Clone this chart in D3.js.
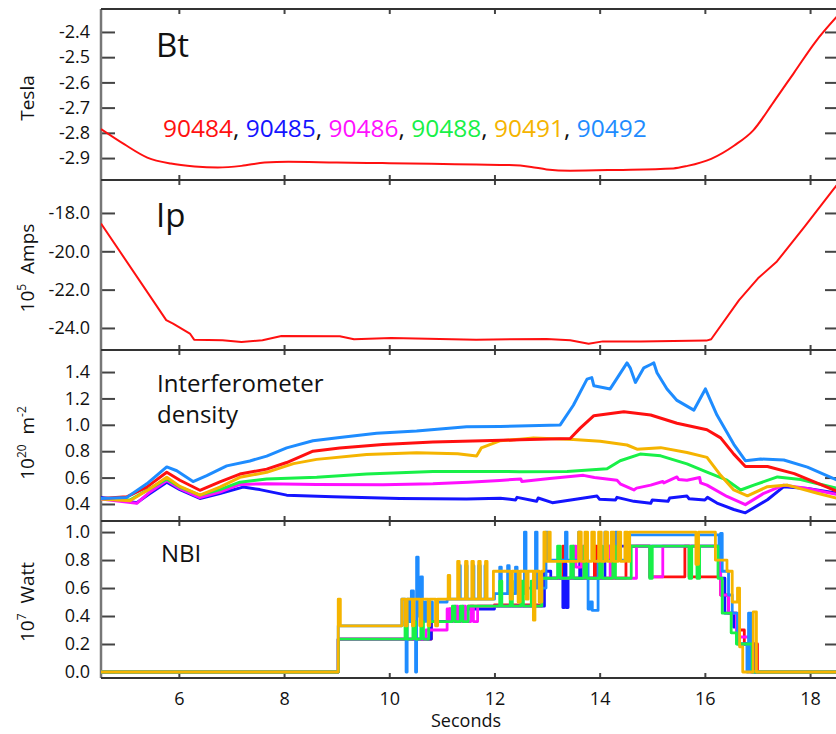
<!DOCTYPE html>
<html>
<head>
<meta charset="utf-8">
<script src="https://cdn.jsdelivr.net/npm/d3@7"></script>
<style>
body { margin: 0; background: #fff; }
text { font-family: "Open Sans", sans-serif; fill: #111; }
</style>
</head>
<body>
<div id="chart"></div>
<script>
// shots shown in the legend
var shots = ["90484", "90485", "90486", "90488", "90491", "90492"];
var shotColors = ["#ff1010", "#1414ff", "#ff10ff", "#18f048", "#f5b400", "#1e8cff"];

// tick labels
var timeTicks = [6, 8, 10, 12, 14, 16, 18];
var btTicks = [-2.4, -2.5, -2.6, -2.7, -2.8, -2.9];
var ipTicks = [-18, -20, -22, -24];
var densTicks = [0.4, 0.6, 0.8, 1.0, 1.2, 1.4];
var nbiTicks = [0, 0.2, 0.4, 0.6, 0.8, 1.0];

// Bt (Tesla) for 90484, [seconds, value]
var btData = [[4.52,-2.785],[4.96,-2.845],[5.40,-2.898],[5.85,-2.922],[6.3,-2.933],[6.74,-2.937],
  [7.19,-2.931],[7.63,-2.918],[8.08,-2.915],[9.0,-2.918],[9.87,-2.92],[10.8,-2.923],[11.65,-2.926],
  [12.28,-2.928],[12.7,-2.935],[12.99,-2.945],[13.44,-2.95],[14.33,-2.947],[15.4,-2.941],[15.67,-2.931],
  [16.12,-2.903],[16.56,-2.85],[16.92,-2.79],[17.3,-2.68],[17.7,-2.56],[18.1,-2.44],[18.55,-2.33]];

// Ip (10^5 A) for 90484
var ipData = [[4.52,-18.55],[5.76,-23.59],[5.89,-23.77],[6.21,-24.29],[6.29,-24.61],
  [6.83,-24.64],[7.19,-24.73],[7.59,-24.64],[7.95,-24.42],[9.06,-24.43],[9.33,-24.59],[10.04,-24.52],
  [11.65,-24.61],[12.99,-24.57],[13.44,-24.64],[13.79,-24.82],[14.06,-24.70],[14.78,-24.70],[16.03,-24.66],
  [16.12,-24.59],[16.65,-22.55],[17.01,-21.41],[17.37,-20.53],[17.9,-18.7],[18.44,-16.78],[18.55,-16.4]];

// interferometer density (10^20 m^-2)
var dens84 = [[4.52,0.442],[5.01,0.454],[5.39,0.528],[5.77,0.64],[6.02,0.58],[6.4,0.504],[6.78,0.568],
  [7.16,0.627],[7.67,0.664],[8.05,0.714],[8.55,0.8],[9.06,0.825],[9.88,0.85],[10.83,0.869],[11.78,0.879],
  [12.48,0.886],[13.44,0.896],[13.63,0.975],[13.89,1.069],[14.46,1.099],[14.97,1.074],[15.47,1.012],
  [16.04,0.963],[16.3,0.901],[16.55,0.778],[16.77,0.684],[17.19,0.684],[17.7,0.63],[18.55,0.49]];
var dens85 = [[4.52,0.449],[4.88,0.43],[5.2,0.41],[5.45,0.479],[5.77,0.565],[6.02,0.509],[6.4,0.442],
  [6.78,0.479],[7.22,0.528],[7.54,0.509],[8.05,0.467],[8.93,0.454],[10.2,0.442],[11.47,0.437],[12.11,0.444],
  [12.4,0.43],[12.43,0.45],[12.8,0.42],[12.83,0.445],[13.1,0.41],[13.45,0.43],[13.7,0.445],[13.95,0.46],
  [14.0,0.435],[14.3,0.43],[14.33,0.45],[14.65,0.42],[14.97,0.405],[15.0,0.43],[15.3,0.42],[15.33,0.445],
  [15.66,0.46],[15.7,0.44],[16.0,0.43],[16.05,0.45],[16.23,0.407],[16.55,0.358],[16.77,0.333],[17.19,0.432],
  [17.5,0.531],[17.95,0.518],[18.55,0.48]];
var dens86 = [[4.52,0.437],[5.2,0.405],[5.45,0.491],[5.77,0.578],[6.02,0.516],[6.4,0.449],[6.78,0.491],
  [7.16,0.548],[7.67,0.553],[8.62,0.548],[9.88,0.546],[10.83,0.553],[11.5,0.565],[12.1,0.578],[12.5,0.59],
  [12.52,0.57],[13.05,0.593],[13.69,0.617],[13.9,0.6],[14.33,0.58],[14.4,0.55],[14.65,0.506],[14.7,0.52],
  [14.97,0.543],[15.2,0.57],[15.22,0.56],[15.47,0.605],[15.5,0.585],[15.66,0.58],[15.9,0.6],[15.92,0.56],
  [16.04,0.543],[16.42,0.457],[16.77,0.395],[17.12,0.481],[17.5,0.543],[17.95,0.518],[18.55,0.469]];
var dens88 = [[4.52,0.442],[5.07,0.43],[5.45,0.516],[5.77,0.59],[6.02,0.528],[6.4,0.467],[6.78,0.509],
  [7.16,0.565],[7.67,0.59],[8.62,0.602],[9.57,0.627],[10.83,0.647],[12.48,0.645],[13.38,0.647],[14.14,0.667],
  [14.39,0.728],[14.77,0.778],[15.16,0.765],[15.66,0.704],[16.04,0.642],[16.42,0.58],[16.68,0.506],
  [16.93,0.543],[17.38,0.605],[17.82,0.585],[18.55,0.515]];
var dens91 = [[4.52,0.437],[5.07,0.425],[5.45,0.516],[5.77,0.602],[6.02,0.533],[6.4,0.467],[6.78,0.528],
  [7.16,0.602],[7.67,0.64],[8.18,0.706],[8.62,0.738],[9.57,0.775],[10.52,0.788],[11.3,0.78],[11.66,0.763],
  [11.75,0.825],[12.1,0.879],[12.48,0.891],[12.74,0.901],[13.5,0.889],[14.01,0.876],[14.52,0.847],
  [14.71,0.815],[15.16,0.827],[15.66,0.79],[16.04,0.753],[16.3,0.617],[16.55,0.506],[16.81,0.462],
  [17.19,0.531],[17.57,0.543],[18.14,0.481],[18.55,0.44]];
var dens92 = [[4.52,0.442],[5.01,0.45],[5.39,0.553],[5.77,0.681],[5.96,0.652],[6.27,0.57],[6.53,0.615],
  [6.91,0.689],[7.35,0.726],[7.67,0.763],[8.05,0.825],[8.55,0.879],[9.06,0.904],[9.76,0.936],[10.52,0.953],
  [11.47,0.985],[12.11,0.988],[13.25,0.999],[13.5,1.148],[13.76,1.346],[13.85,1.358],[13.89,1.296],
  [14.2,1.272],[14.52,1.469],[14.58,1.432],[14.68,1.321],[14.84,1.432],[14.97,1.457],[15.03,1.469],
  [15.09,1.395],[15.28,1.272],[15.47,1.185],[15.79,1.111],[16.01,1.272],[16.23,1.074],[16.55,0.852],
  [16.77,0.728],[17.06,0.741],[17.5,0.733],[17.95,0.679],[18.55,0.575]];

// NBI power (10^7 W), step values
var nbi84 = [[4.52,0],[9.03,0.235],[10.8,0.36],[11.15,0.45],[11.2,0.36],[11.3,0.45],[11.5,0.47],[12.0,0.48],
  [12.9,0.67],[13.3,0.9],[13.35,0.67],[13.9,0.9],[13.95,0.67],[14.5,0.9],[14.95,0.68],[15.62,0.9],[15.7,0.68],
  [16.3,0.55],[16.45,0.42],[16.6,0.3],[16.75,0.2],[17.0,0],[18.55,0]];
var nbi85 = [[4.52,0],[9.03,0.235],[10.8,0.36],[11.2,0.45],[12.0,0.47],[12.95,0.72],[13.07,0.67],[13.3,0.46],
  [13.33,0.77],[13.36,0.46],[13.4,0.67],[13.62,0.9],[13.65,0.67],[14.1,0.9],[16.3,0.67],
  [16.38,0.42],[16.55,0.32],[16.65,0.2],[16.95,0],[18.55,0]];
var nbi86 = [[4.52,0],[9.03,0.235],[10.7,0.3],[11.1,0.45],[11.15,0.36],[11.25,0.47],[11.3,0.36],[11.4,0.47],
  [11.45,0.36],[11.55,0.47],[11.6,0.36],[11.68,0.47],[12.9,0.67],[13.5,0.9],[13.55,0.75],[13.65,0.9],
  [13.7,0.67],[14.2,0.9],[14.25,0.67],[14.7,0.9],[14.95,0.68],[15.2,0.9],[16.3,0.55],[16.45,0.42],
  [16.6,0.25],[16.85,0],[18.55,0]];
var nbi88 = [[4.52,0],[9.03,0.235],[10.3,0.36],[10.34,0.235],[10.45,0.36],[10.5,0.235],[10.6,0.36],
  [10.65,0.235],[10.75,0.36],[11.2,0.47],[11.25,0.36],[11.35,0.47],[11.4,0.36],[11.5,0.47],[12.1,0.65],
  [12.14,0.47],[12.3,0.65],[12.34,0.47],[12.5,0.65],[12.55,0.47],[12.7,0.65],[12.75,0.47],[12.9,0.67],
  [13.2,0.9],[13.25,0.67],[13.45,0.9],[13.5,0.67],[13.7,0.9],[13.75,0.67],[14.0,0.9],[14.05,0.67],
  [14.25,0.9],[14.3,0.67],[14.6,0.9],[14.95,0.67],[15.0,0.9],[15.7,0.67],[15.75,0.9],[15.85,0.67],
  [15.9,0.9],[16.25,0.67],[16.33,0.42],[16.5,0.28],[16.6,0.2],[16.9,0],[18.55,0]];
var nbi91 = [[4.52,0],[9.03,0.52],[9.07,0.33],[10.24,0.52],[10.3,0.33],[10.34,0.52],[10.44,0.33],[10.47,0.52],
  [10.58,0.33],[10.62,0.52],[10.74,0.33],[10.77,0.52],[10.88,0.33],[10.92,0.52],[11.12,0.69],[11.15,0.52],
  [11.3,0.79],[11.33,0.52],[11.45,0.79],[11.48,0.52],[11.57,0.79],[11.6,0.52],[11.7,0.79],[11.73,0.52],
  [11.83,0.79],[11.86,0.52],[11.98,0.72],[12.3,0.52],[12.34,0.72],[12.45,0.5],[12.49,0.72],[12.6,0.52],
  [12.64,0.72],[12.74,0.37],[12.77,0.72],[12.85,0.5],[12.9,0.72],[12.94,1.0],[12.97,0.79],[13.03,1.0],
  [13.06,0.79],[13.6,1.0],[13.65,0.79],[13.72,1.0],[13.77,0.79],[13.85,1.0],[13.9,0.79],[13.98,1.0],
  [14.03,0.79],[14.1,1.0],[14.15,0.79],[14.22,1.0],[14.27,0.79],[14.35,1.0],[14.4,0.79],[14.48,1.0],
  [14.53,0.79],[14.57,1.0],[15.83,0.77],[15.88,1.0],[16.2,0.8],[16.42,0.72],[16.52,0.5],[16.62,0.6],
  [16.66,0.18],[16.72,0],[16.92,0.43],[16.98,0],[18.55,0]];
var nbi92 = [[4.52,0],[9.03,0.33],[10.24,0.52],[10.3,0.33],[10.32,0],[10.34,0.52],[10.38,0.36],[10.42,0.58],
  [10.46,0.36],[10.5,0],[10.52,0.82],[10.55,0.4],[10.6,0.68],[10.63,0.36],[10.68,0.5],[10.72,0.36],
  [10.76,0.5],[10.82,0.36],[10.9,0.5],[11.1,0.52],[11.32,0.76],[11.35,0.52],[11.45,0.76],[11.48,0.52],
  [11.58,0.76],[11.61,0.52],[11.7,0.76],[11.73,0.52],[11.82,0.76],[11.85,0.52],[12.0,0.56],[12.1,0.75],
  [12.13,0.56],[12.25,0.76],[12.28,0.56],[12.4,0.75],[12.43,0.56],[12.57,1.0],[12.6,0.6],[12.78,1.0],
  [12.81,0.6],[12.98,1.0],[13.01,0.8],[13.35,1.0],[13.38,0.8],[13.6,1.0],[13.63,0.8],[13.78,0.45],
  [13.82,0.5],[13.86,0.44],[13.97,0.8],[14.1,1.0],[14.13,0.8],[14.3,1.0],[14.33,0.8],[14.57,0.98],
  [16.22,0.98],[16.27,0.8],[16.3,0.99],[16.33,0.72],[16.45,0.55],[16.52,0.42],[16.62,0.2],[16.8,0],
  [16.83,0.42],[16.88,0],[18.55,0]];

var svgWidth = 836;
var svgHeight = 734;
var left = 101, right = 839;

var svg = d3.select("#chart")
    .append("svg")
    .attr("width", svgWidth)
    .attr("height", svgHeight);

var x = d3.scaleLinear().domain([4.52, 18.55]).range([left, right]);

// tick text with a plain hyphen for the minus sign
var fmt1 = d => d.toFixed(1);

// panel layout
var panels = [
    {top: 9, bottom: 180, domain: [-2.987, -2.309], ticks: btTicks},
    {top: 180, bottom: 350, domain: [-25.15, -16.28], ticks: ipTicks},
    {top: 350, bottom: 521, domain: [0.271, 1.567], ticks: densTicks},
    {top: 521, bottom: 678, domain: [-0.043, 1.079], ticks: nbiTicks}
];

panels.forEach(function(p, i) {
    p.y = d3.scaleLinear().domain(p.domain).range([p.bottom, p.top]);

    svg.append("clipPath").attr("id", "clip" + i)
      .append("rect")
        .attr("x", left).attr("y", p.top)
        .attr("width", right - left).attr("height", p.bottom - p.top);

    var gl = svg.append("g")
        .attr("transform", `translate(${left},0)`)
        .call(d3.axisLeft(p.y).tickValues(p.ticks).tickFormat(fmt1).tickSize(-14).tickPadding(11));
    var gr = svg.append("g")
        .attr("transform", `translate(${right},0)`)
        .call(d3.axisRight(p.y).tickValues(p.ticks).tickFormat("").tickSize(-14));
    var gt = svg.append("g")
        .attr("transform", `translate(0,${p.top})`)
        .call(d3.axisTop(x).tickValues(timeTicks).tickFormat("").tickSize(-5));
    var gb = svg.append("g")
        .attr("transform", `translate(0,${p.bottom})`)
        .call(d3.axisBottom(x).tickValues(timeTicks).tickFormat(i == 3 ? d3.format("d") : "").tickSize(-5).tickPadding(14));

    [gl, gr, gt, gb].forEach(function(g) {
        g.select(".domain").remove();
        g.selectAll(".tick line").attr("stroke", "#444").attr("stroke-width", 2);
        g.selectAll(".tick text")
            .style("font-family", '"Open Sans", sans-serif')
            .style("font-size", "18px")
            .attr("fill", "#111");
    });
});

// frame lines
svg.append("line")
    .attr("x1", left).attr("x2", left).attr("y1", 9).attr("y2", 678)
    .attr("stroke", "#777").attr("stroke-width", 2.5);
[9, 180, 350, 521, 678].forEach(function(yy) {
    svg.append("line")
        .attr("x1", left).attr("x2", right).attr("y1", yy).attr("y2", yy)
        .attr("stroke", "#333").attr("stroke-width", 2);
});

function drawLine(panelIndex, data, color, width, curve) {
    var p = panels[panelIndex];
    var line = d3.line()
        .x(d => x(d[0]))
        .y(d => p.y(d[1]))
        .curve(curve);
    svg.append("path")
        .datum(data)
        .attr("clip-path", `url(#clip${panelIndex})`)
        .attr("fill", "none")
        .attr("stroke", color)
        .attr("stroke-width", width)
        .attr("stroke-linejoin", "round")
        .attr("d", line);
}

// Bt and Ip
drawLine(0, btData, shotColors[0], 2, d3.curveMonotoneX);
drawLine(1, ipData, shotColors[0], 2, d3.curveLinear);

// density
var densSeries = [dens85, dens86, dens88, dens91, dens84, dens92];
var densColors = [shotColors[1], shotColors[2], shotColors[3], shotColors[4], shotColors[0], shotColors[5]];
densSeries.forEach(function(s, i) {
    drawLine(2, s, densColors[i], 3, d3.curveLinear);
});

// NBI
var nbiSeries = [nbi84, nbi85, nbi86, nbi92, nbi88, nbi91];
var nbiColors = [shotColors[0], shotColors[1], shotColors[2], shotColors[5], shotColors[3], shotColors[4]];
nbiSeries.forEach(function(s, i) {
    drawLine(3, s, nbiColors[i], 2.8, d3.curveStepAfter);
});

// panel titles
svg.append("text").attr("x", 156).attr("y", 57).style("font-size", "33px").text("Bt");
svg.append("text").attr("x", 156).attr("y", 227).style("font-size", "33px").text("Ip");
svg.append("text").attr("x", 157).attr("y", 392).style("font-size", "24px").text("Interferometer");
svg.append("text").attr("x", 157).attr("y", 423).style("font-size", "24px").text("density");
svg.append("text").attr("x", 161).attr("y", 562).style("font-size", "24px").text("NBI");

// legend of shot numbers
var legend = svg.append("text").attr("x", 163).attr("y", 137).style("font-size", "24.5px");
shots.forEach(function(s, i) {
    legend.append("tspan").style("fill", shotColors[i]).text(s);
    if (i < shots.length - 1) {
        legend.append("tspan").style("fill", "#111").text(", ");
    }
});

// y-axis labels
function yLabel(cy, base, sup, unit, unitSup) {
    var t = svg.append("text")
        .attr("transform", `translate(34,${cy}) rotate(-90)`)
        .attr("text-anchor", "middle")
        .style("font-size", "19px");
    if (base) {
        t.append("tspan").text(base);
        t.append("tspan").attr("dy", -8).style("font-size", "12px").text(sup);
        t.append("tspan").attr("dy", 8).text("\u00a0\u00a0" + unit);
    } else {
        t.append("tspan").text(unit);
    }
    if (unitSup) {
        t.append("tspan").attr("dy", -8).style("font-size", "12px").text(unitSup);
    }
}
yLabel(98, null, null, "Tesla");
yLabel(268, "10", "5", "Amps");
yLabel(443, "10", "20", "m", "-2");
yLabel(602, "10", "7", "Watt");

// x-axis label
svg.append("text")
    .attr("x", 466).attr("y", 727)
    .attr("text-anchor", "middle")
    .style("font-size", "18px")
    .text("Seconds");
</script>
</body>
</html>
